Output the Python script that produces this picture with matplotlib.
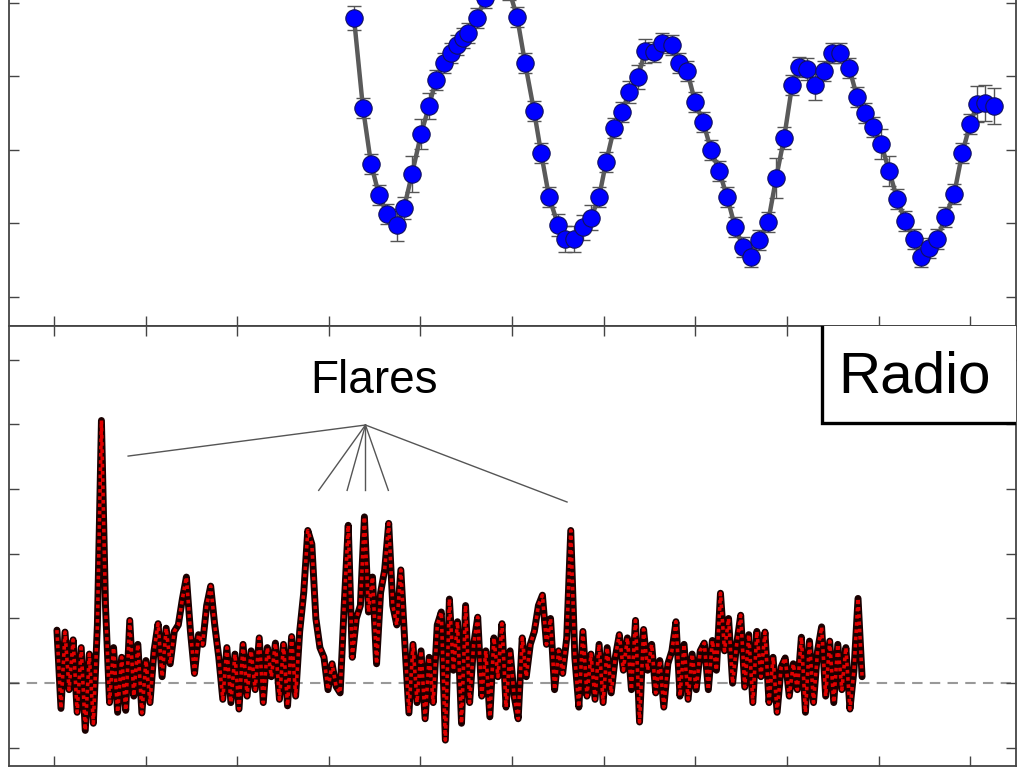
import numpy as np
import matplotlib
matplotlib.use('Agg')
import matplotlib.pyplot as plt
from matplotlib.patches import Rectangle

plt.rcParams['font.family'] = ['Liberation Sans', 'DejaVu Sans']

# Optical light curve (upper panel)
opt_time = [3.275, 3.373, 3.461, 3.548, 3.635, 3.745, 3.821, 3.908, 4.007, 4.094,
            4.170, 4.258, 4.334, 4.400, 4.465, 4.520, 4.618, 4.705, 4.793, 4.880,
            4.967, 5.055, 5.142, 5.240, 5.317, 5.404, 5.502, 5.579, 5.677, 5.775,
            5.862, 5.950, 6.026, 6.114, 6.201, 6.277, 6.376, 6.452, 6.550, 6.638,
            6.747, 6.823, 6.911, 6.998, 7.085, 7.172, 7.260, 7.347, 7.434, 7.522,
            7.609, 7.697, 7.795, 7.882, 7.969, 8.057, 8.133, 8.220, 8.308, 8.406,
            8.493, 8.581, 8.679, 8.766, 8.854, 8.941, 9.028, 9.116, 9.203, 9.290,
            9.389, 9.465, 9.552, 9.640, 9.727, 9.825, 9.913, 10.000, 10.076, 10.164,
            10.262]
opt_flux = [3.796, 2.571, 1.810, 1.388, 1.129, 0.980, 1.211, 1.673, 2.218, 2.599,
            2.952, 3.184, 3.320, 3.429, 3.524, 3.592, 3.796, 4.068, 4.231, 4.313,
            4.177, 3.810, 3.184, 2.531, 1.959, 1.361, 0.980, 0.789, 0.789, 0.952,
            1.075, 1.361, 1.837, 2.299, 2.517, 2.789, 2.993, 3.347, 3.333, 3.456,
            3.429, 3.184, 3.075, 2.653, 2.381, 2.000, 1.714, 1.361, 0.952, 0.680,
            0.544, 0.776, 1.020, 1.619, 2.163, 2.884, 3.129, 3.102, 2.884, 3.075,
            3.320, 3.320, 3.116, 2.721, 2.503, 2.313, 2.082, 1.714, 1.333, 1.034,
            0.789, 0.544, 0.667, 0.789, 1.088, 1.401, 1.959, 2.354, 2.626, 2.639,
            2.599]
opt_err = [0.16, 0.13, 0.13, 0.13, 0.14, 0.22, 0.15, 0.25, 0.20, 0.18,
           0.14, 0.13, 0.13, 0.13, 0.13, 0.13, 0.14, 0.14, 0.14, 0.14,
           0.14, 0.13, 0.13, 0.13, 0.13, 0.13, 0.15, 0.18, 0.18, 0.17,
           0.17, 0.13, 0.13, 0.13, 0.13, 0.15, 0.16, 0.16, 0.14, 0.13,
           0.13, 0.13, 0.13, 0.13, 0.13, 0.13, 0.13, 0.13, 0.13, 0.13,
           0.13, 0.13, 0.13, 0.27, 0.15, 0.13, 0.13, 0.15, 0.20, 0.13,
           0.13, 0.14, 0.13, 0.13, 0.13, 0.13, 0.20, 0.20, 0.13, 0.13,
           0.13, 0.13, 0.13, 0.13, 0.13, 0.13, 0.13, 0.13, 0.24, 0.24,
           0.24]

# Radio light curve (lower panel)
radio_flux = [0.82, -0.39, 0.79, -0.1, 0.67, -0.45, 0.55, -0.73, 0.45, -0.62,
              0.9, 4.06, 1.2, -0.3, 0.55, -0.45, 0.4, -0.42, 0.97, -0.2,
              0.6, -0.46, 0.35, -0.3, 0.5, 0.92, 0.1, 0.85, 0.3, 0.8,
              0.9, 1.3, 1.64, 0.8, 0.15, 0.75, 0.6, 1.2, 1.5, 0.9,
              0.4, -0.25, 0.55, -0.3, 0.45, -0.4, 0.6, -0.2, 0.5, -0.1,
              0.7, -0.3, 0.55, 0.1, 0.62, -0.25, 0.6, -0.35, 0.72, -0.2,
              0.8, 1.4, 2.36, 2.15, 1.0, 0.55, 0.4, -0.1, 0.3, -0.05,
              -0.15, 1.2, 2.44, 0.4, 1.0, 1.2, 2.57, 1.1, 1.64, 0.3,
              1.4, 1.75, 2.47, 1.2, 0.9, 1.75, 0.6, -0.46, 0.6, -0.3,
              0.5, -0.55, 0.4, -0.3, 0.9, 1.1, -0.88, 1.3, 0.2, 0.95,
              -0.62, 1.2, -0.3, 0.6, 1.02, -0.2, 0.5, -0.52, 0.7, 0.1,
              0.92, -0.37, 0.5, -0.2, -0.55, 0.7, 0.1, 0.6, 0.8, 1.2,
              1.36, 0.6, 1.0, -0.1, 0.5, 0.15, 0.7, 2.36, 0.4, -0.37,
              0.8, -0.2, 0.45, -0.25, 0.6, -0.3, 0.55, -0.15, 0.4, 0.75,
              0.2, 0.7, -0.1, 0.97, -0.6, 0.83, 0.2, 0.6, -0.15, 0.35,
              -0.37, 0.3, 0.5, 0.95, -0.2, 0.6, -0.25, 0.45, -0.1, 0.5,
              0.62, -0.1, 0.66, 0.2, 1.39, 0.5, 1.0, 0.0, 0.6, 1.05,
              -0.06, 0.75, -0.3, 0.8, 0.1, 0.79, -0.3, 0.4, -0.45, 0.25,
              0.39, -0.2, 0.3, -0.1, 0.71, -0.45, 0.65, -0.3, 0.5, 0.87,
              -0.2, 0.65, -0.3, 0.6, -0.1, 0.55, -0.4, 0.2, 1.31, 0.1]
radio_start, radio_end = 0.033, 8.82
radio_time = np.linspace(radio_start, radio_end, len(radio_flux))

# flare annotation: apex and the flare positions it points to
flare_apex = (3.40, 3.99)
flare_targets = [(0.81, 3.51), (2.89, 2.98), (3.20, 2.98), (3.40, 2.98),
                 (3.65, 2.98), (5.60, 2.80)]

fig = plt.figure(figsize=(10.24, 7.68), dpi=100)
ax_top = fig.add_axes([0.0088, 0.5755, 0.9834, 0.4766])
ax_bot = fig.add_axes([0.0088, 0.0026, 0.9834, 0.5729])

spine_col = '#444444'
for ax in (ax_top, ax_bot):
    for s in ax.spines.values():
        s.set_color(spine_col)
        s.set_linewidth(1.3)
    ax.set_xlim(-0.49, 10.5)
    ax.set_xticks(range(0, 11))
    ax.tick_params(direction='in', length=7, width=1, color=spine_col,
                   top=True, right=True, labelbottom=False, labelleft=False)

# upper panel
ax_top.set_ylim(-0.395, 4.585)
ax_top.set_yticks(range(0, 5))
ax_top.errorbar(opt_time, opt_flux, yerr=opt_err, fmt='none', ecolor='#555555',
                elinewidth=1, capsize=5, capthick=1, zorder=2)
ax_top.plot(opt_time, opt_flux, '-', color='#5a5a5a', lw=3.2, zorder=3)
ax_top.plot(opt_time, opt_flux, 'o', ms=12.5, mfc='#0000ff', mec='#101060',
            mew=0.8, zorder=4)
ax_top.spines['top'].set_visible(False)

# lower panel
ax_bot.set_ylim(-1.28, 5.52)
ax_bot.set_yticks(range(-1, 6))
ax_bot.axhline(0, color='#999999', lw=1.5, ls=(0, (5, 3.5)), zorder=1)
ax_bot.plot(radio_time, radio_flux, color='#1a0000', lw=5.0, zorder=2,
            solid_joinstyle='round', solid_capstyle='round')
ax_bot.plot(radio_time, radio_flux, color='#e00000', lw=2.6, zorder=3,
            ls=(0, (1.0, 1.0)), dash_joinstyle='round')

for tx, ty in flare_targets:
    ax_bot.plot([flare_apex[0], tx], [flare_apex[1], ty], color='#555555',
                lw=1.0, zorder=4)
ax_bot.text(3.488, 4.48, 'Flares', fontsize=33, ha='center', va='baseline')

ax_bot.add_patch(Rectangle((0.807, 0.78), 0.4, 0.4, transform=ax_bot.transAxes,
                           facecolor='white', edgecolor='black', lw=2.4,
                           zorder=5))
ax_bot.text(0.899, 0.85, 'Radio', transform=ax_bot.transAxes, fontsize=42,
            ha='center', va='baseline', zorder=6)

fig.savefig('out.png', dpi=100)
